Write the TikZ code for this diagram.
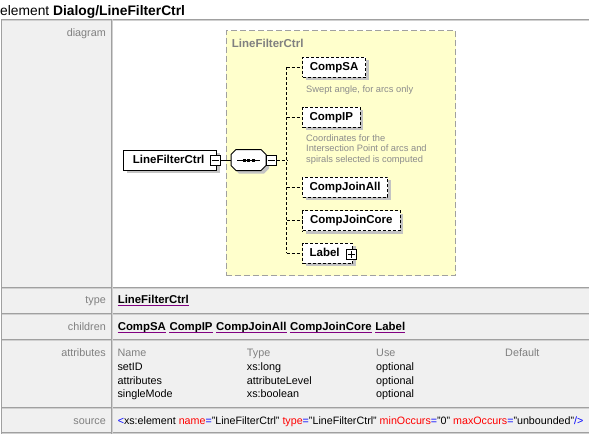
\documentclass[tikz,border=0pt]{standalone}
\usepackage{fontspec}
\setmainfont{Liberation Sans}
\usetikzlibrary{shadows}
\definecolor{cellgray}{HTML}{F0F0F0}
\definecolor{bordergray}{HTML}{A0A0A0}
\definecolor{borderlight}{HTML}{D0D0D0}
\definecolor{labelgray}{HTML}{808080}
\definecolor{boxyellow}{HTML}{FFFFCC}
\definecolor{yborder}{HTML}{A0A0A0}
\definecolor{descgray}{HTML}{8C8C8C}
\definecolor{shadowgray}{HTML}{C4C4C4}
\definecolor{linkpurple}{HTML}{800080}
\definecolor{xmlblue}{HTML}{0000FF}
\definecolor{xmlred}{HTML}{FF0000}
\newcommand\fsz[1]{\fontsize{#1}{#1}\selectfont}
\begin{document}
\begin{tikzpicture}[x=1pt,y=-1pt,
  lbl/.style={font=\fsz{10.8}, inner sep=0pt, text=labelgray, anchor=base east},
  val/.style={font=\fsz{10.8}, inner sep=0pt, text=black, anchor=base west},
  hdr/.style={val, text=labelgray},
  lnk/.style={font=\bfseries\fsz{11.4}, inner sep=0pt, anchor=base west},
  elem/.style={font=\bfseries\fsz{11.5}, minimum height=20pt, inner sep=0pt,
     text height=8.3pt, text depth=2.2pt, fill=white, draw=black, line width=1pt,
     anchor=west,
     drop shadow={shadow xshift=3pt, shadow yshift=-3pt, fill=shadowgray, opacity=1}},
  optelem/.style={elem, dash pattern=on 3pt off 2pt},
  pmbox/.style={draw=black, fill=white, line width=1pt, minimum size=10pt, inner sep=0pt},
  desc/.style={font=\fsz{9.3}, text=descgray, inner sep=0pt, anchor=base west},
  conn/.style={line width=1pt, black},
  dconn/.style={conn, dash pattern=on 3pt off 2pt}
]
\useasboundingbox (0,0) rectangle (589,434);
\fill[white] (0,0) rectangle (589,434);
% title
\node[font=\fsz{13.8}, inner sep=0pt, anchor=base west] (title) at (0,15) {element \textbf{Dialog/LineFilterCtrl}};
% table backgrounds
\fill[cellgray] (2,19) rectangle (111,434);
\fill[white] (113,19) rectangle (589,287);
\fill[cellgray] (113,287) rectangle (589,434);
\foreach \yy in {19.5,287.5,313.5,339.5,407.5,432.5}{
  \draw[bordergray, line width=1pt] (1,\yy) -- (589,\yy);
  \draw[borderlight, line width=1pt] (2,\yy+1) -- (589,\yy+1);
}
\draw[bordergray, line width=1pt] (1.5,19) -- (1.5,434);
\draw[bordergray, line width=1pt] (111.5,19) -- (111.5,434);
\draw[borderlight, line width=1pt] (112.8,19) -- (112.8,434);
% labels
\node[lbl] (ldiag) at (106,36) {diagram};
\node[lbl] (ltype) at (106,303) {type};
\node[lbl] (lchild) at (106,330) {children};
\node[lbl] (lattr) at (106,356.5) {attributes};
\node[lbl] (lsrc) at (106,424) {source};
% diagram group
\node[draw=yborder, fill=boxyellow, dash pattern=on 6pt off 3pt, line width=1pt,
  minimum width=229.3pt, minimum height=245.3pt, anchor=north west, inner sep=0pt] (grp) at (225.7,30) {};
\node[font=\bfseries\fsz{11.5}, text=labelgray, inner sep=0pt, anchor=base west] (grptitle) at (231.7,47.5) {LineFilterCtrl};
% main element
\node[elem, minimum width=92.7pt] (main) at (123.3,160) {LineFilterCtrl\hspace*{3pt}};
\node[pmbox] (mainm) at (215,160) {};
\draw[line width=1pt] ([xshift=2pt]mainm.west) -- ([xshift=-2pt]mainm.east);
% sequence compositor
\fill[shadowgray] (239,152.5) -- (264,152.5) -- (269,157.5) -- (269,168.5) -- (264,173.5) -- (239,173.5) -- (234,168.5) -- (234,157.5) -- cycle;
\draw[line width=1pt, fill=white] (236,149.5) -- (261,149.5) -- (266,154.5) -- (266,165.5) -- (261,170.5) -- (236,170.5) -- (231,165.5) -- (231,154.5) -- cycle;
\node[minimum width=35pt, minimum height=21pt, inner sep=0pt] (seq) at (248.5,160) {};
\draw[line width=1pt] (237,160) -- (260,160);
\foreach \xx in {244,248.5,253}{\fill[black] (\xx-1.5,158.5) rectangle (\xx+1.5,161.5);}
\node[pmbox] (seqm) at (271,160) {};
\draw[line width=1pt] ([xshift=2pt]seqm.west) -- ([xshift=-2pt]seqm.east);
\draw[conn] (mainm.east) -- (seq.west);
% children
\node[optelem, minimum width=63.3pt] (sa) at (302,67.3) {CompSA};
\node[optelem, minimum width=57.6pt] (ip) at (302,117.3) {CompIP};
\node[optelem, minimum width=85pt] (ja) at (302,187.3) {CompJoinAll};
\node[optelem, minimum width=97.6pt] (jc) at (302,220.7) {CompJoinCore};
\node[optelem, minimum width=50.3pt] (lb) at (302,253.3) {Label\hspace*{6pt}};
\node[pmbox] (lbp) at (351,254.3) {};
\draw[line width=1pt] ([xshift=2pt]lbp.west) -- ([xshift=-2pt]lbp.east);
\draw[line width=1pt] ([yshift=-2pt]lbp.north) -- ([yshift=2pt]lbp.south);
% bus
\coordinate (bus) at (286.7,160);
\coordinate (bustop) at (286.7,67.3);
\coordinate (busbot) at (286.7,253.3);
\draw[dconn] (seqm.east) -- (bus);
\draw[dconn] (bustop) -- (busbot);
\foreach \n in {sa,ip,ja,jc,lb}{\draw[dconn] (\n.west -| bus) -- (\n.west);}
% descriptions
\node[desc] (sad) at (306,92.3) {Swept angle, for arcs only};
\node[desc] (ipd1) at (306,141) {Coordinates for the};
\node[desc] (ipd2) at (306,151.6) {Intersection Point of arcs and};
\node[desc] (ipd3) at (306,162.3) {spirals selected is computed};
% type and children
\node[lnk] (tv) at (117.6,303) {LineFilterCtrl};
\node[lnk] (c1) at (117.6,330) {CompSA};
\node[lnk] (c2) at ([xshift=3.2pt]c1.base east) {CompIP};
\node[lnk] (c3) at ([xshift=3.2pt]c2.base east) {CompJoinAll};
\node[lnk] (c4) at ([xshift=3.2pt]c3.base east) {CompJoinCore};
\node[lnk] (c5) at ([xshift=3.2pt]c4.base east) {Label};
\foreach \n in {tv,c1,c2,c3,c4,c5}{\draw[linkpurple, line width=1pt] ([yshift=-2pt]\n.base west) -- ([yshift=-2pt]\n.base east);}
% attributes
\node[hdr] (hn) at (117.3,356.5) {Name};
\node[hdr] (ht) at (246.7,356.5) {Type};
\node[hdr] (hu) at (376,356.5) {Use};
\node[hdr] (hd) at (505,356.5) {Default};
\node[val] (a1n) at (117.3,370) {setID};
\node[val] (a1t) at (246.7,370) {xs:long};
\node[val] (a1u) at (376,370) {optional};
\node[val] (a2n) at (117.3,384) {attributes};
\node[val] (a2t) at (246.7,384) {attributeLevel};
\node[val] (a2u) at (376,384) {optional};
\node[val] (a3n) at (117.3,397.3) {singleMode};
\node[val] (a3t) at (246.7,397.3) {xs:boolean};
\node[val] (a3u) at (376,397.3) {optional};
% source
\node[val, font=\fsz{10.7}] (src) at (117.6,424) {{\color{xmlblue}<}xs:element {\color{xmlred}name}{\color{xmlblue}=}"LineFilterCtrl" {\color{xmlred}type}{\color{xmlblue}=}"LineFilterCtrl" {\color{xmlred}minOccurs}{\color{xmlblue}=}"0" {\color{xmlred}maxOccurs}{\color{xmlblue}=}"unbounded"{\color{xmlblue}/>}};
\end{tikzpicture}
\end{document}
